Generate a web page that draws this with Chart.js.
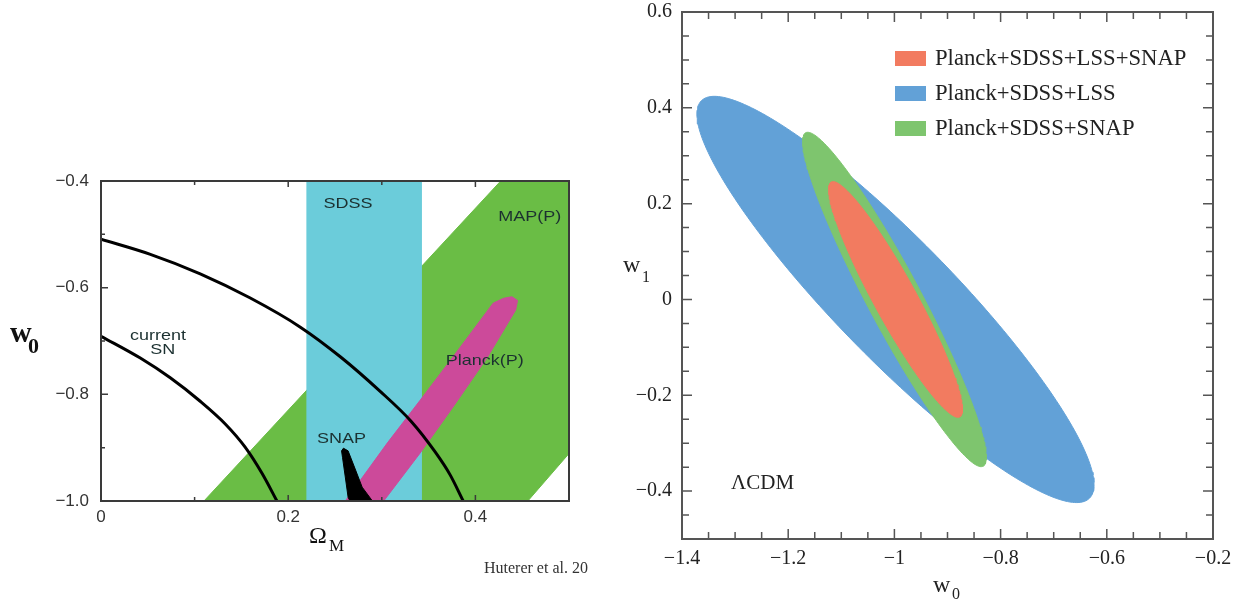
<!DOCTYPE html>
<html>
<head>
<meta charset="utf-8">
<script src="https://cdn.jsdelivr.net/npm/chart.js@4.4.1/dist/chart.umd.min.js"></script>
<style>
  html, body { margin: 0; padding: 0; background: #fff; }
  #wrap { position: relative; width: 1237px; height: 601px; overflow: hidden; }
  #leftPanel { position: absolute; left: 0; top: 0; }
  #rightPanel { position: absolute; left: 600px; top: 0; }
</style>
</head>
<body>
<div id="wrap">
  <canvas id="leftPanel" width="600" height="601"></canvas>
  <canvas id="rightPanel" width="637" height="601"></canvas>
</div>
<script>
// ---------- left panel data (Omega_M vs w0) ----------
const leftXTicks = [0, 0.2, 0.4];
const leftXTickLabels = ['0', '0.2', '0.4'];
const leftXMinor = [0.1, 0.3];
const leftYTicks = [-0.4, -0.6, -0.8, -1.0];
const leftYTickLabels = ['\u22120.4', '\u22120.6', '\u22120.8', '\u22121.0'];
const leftYMinor = [-0.5, -0.7, -0.9];

// MAP(P) band outline
const mapBandX = [0.110, 0.427, 0.500, 0.500, 0.456, 0.110];
const mapBandY = [-1.0, -0.4, -0.4, -0.911, -1.0, -1.0];
// SDSS band
const sdssX = [0.220, 0.220, 0.342, 0.342, 0.220];
const sdssY = [-1.0, -0.4, -0.4, -1.0, -1.0];
// Planck(P) contour
const planckX = [0.261, 0.306, 0.341, 0.376, 0.419, 0.430, 0.439, 0.445, 0.443, 0.413, 0.376, 0.341, 0.302, 0.261];
const planckY = [-1.0, -0.891, -0.811, -0.730, -0.629, -0.620, -0.617, -0.624, -0.642, -0.730, -0.824, -0.910, -1.0, -1.0];
// SNAP contour
const snapX = [0.266, 0.264, 0.261, 0.258, 0.257, 0.259, 0.264, 0.272, 0.279, 0.290, 0.266];
const snapY = [-1.0, -0.993, -0.955, -0.918, -0.906, -0.901, -0.906, -0.942, -0.974, -1.0, -1.0];
// current SN contours
const outerArcX = [0, 0.052, 0.106, 0.159, 0.213, 0.256, 0.298, 0.331, 0.357, 0.373, 0.387];
const outerArcY = [-0.509, -0.537, -0.574, -0.619, -0.674, -0.730, -0.794, -0.850, -0.908, -0.951, -1.0];
const innerArcX = [0, 0.042, 0.074, 0.106, 0.133, 0.154, 0.172, 0.188];
const innerArcY = [-0.691, -0.732, -0.769, -0.813, -0.856, -0.899, -0.948, -1.0];

// ---------- right panel data (w0 vs w1) ----------
const rightXTicks = [-1.4, -1.2, -1.0, -0.8, -0.6, -0.4];
const rightXTickLabels = ['\u22121.4', '\u22121.2', '\u22121', '\u22120.8', '\u22120.6', '\u22120.2'];
const rightYTicks = [0.6, 0.4, 0.2, 0, -0.2, -0.4];
const rightYTickLabels = ['0.6', '0.4', '0.2', '0', '\u22120.2', '\u22120.4'];

const seriesNames = ['Planck+SDSS+LSS+SNAP', 'Planck+SDSS+LSS', 'Planck+SDSS+SNAP'];
// ellipse: centre, half extent in x and y, half chord at centre / half extent (tilt)
const ellCenterX = [-0.998, -0.998, -1.000];
const ellCenterY = [0.000, 0.000, 0.000];
const ellHalfX = [0.126, 0.374, 0.173];
const ellHalfY = [0.246, 0.424, 0.349];
const ellChord = [0.36, 0.41, 0.33];
const seriesColors = ['#f27b60', '#62a1d7', '#7ec56e'];

const SANS = '"Liberation Sans", Arial, sans-serif';
const SERIF = '"Liberation Serif", "Times New Roman", serif';

function zipPoints(xs, ys) {
  return xs.map((x, i) => ({ x: x, y: ys[i] }));
}

function ellipseOutline(i) {
  const pts = [];
  const d = Math.PI - Math.asin(ellChord[i]);
  for (let k = 0; k <= 240; k++) {
    const t = 2 * Math.PI * k / 240;
    pts.push({ x: ellCenterX[i] + ellHalfX[i] * Math.cos(t), y: ellCenterY[i] + ellHalfY[i] * Math.cos(t + d) });
  }
  return pts;
}

function shape(points, color, order) {
  return { data: points, backgroundColor: color, borderColor: color, borderWidth: 1,
           fill: 'shape', pointRadius: 0, tension: 0, order: order };
}

function arc(xs, ys) {
  return { data: zipPoints(xs, ys), borderColor: '#000', borderWidth: 3, fill: false,
           pointRadius: 0, cubicInterpolationMode: 'monotone', order: 0 };
}

// ---------- left panel ----------
const leftDecor = {
  id: 'leftDecor',
  afterDraw(chart) {
    const { ctx, chartArea: a, scales: { x, y } } = chart;
    ctx.save();
    ctx.strokeStyle = '#3a3a3a';
    ctx.lineWidth = 2;
    ctx.strokeRect(a.left, a.top, a.right - a.left, a.bottom - a.top);

    ctx.lineWidth = 1.5;
    ctx.beginPath();
    leftXTicks.concat(leftXMinor).forEach(v => {
      const px = x.getPixelForValue(v);
      const len = leftXTicks.includes(v) ? 6 : 4;
      ctx.moveTo(px, a.bottom); ctx.lineTo(px, a.bottom - len);
      ctx.moveTo(px, a.top); ctx.lineTo(px, a.top + len);
    });
    leftYTicks.concat(leftYMinor).forEach(v => {
      const py = y.getPixelForValue(v);
      const len = leftYTicks.includes(v) ? 7 : 4;
      ctx.moveTo(a.left, py); ctx.lineTo(a.left + len, py);
    });
    ctx.stroke();

    // labels inside the plot (source image is stretched sideways)
    const labels = [
      ['SDSS', 0.264, -0.442], ['MAP(P)', 0.458, -0.468], ['Planck(P)', 0.410, -0.738],
      ['SNAP', 0.257, -0.884], ['current', 0.061, -0.691], ['SN', 0.066, -0.717]
    ];
    ctx.fillStyle = '#1b3030';
    ctx.font = '15px ' + SANS;
    ctx.textAlign = 'center';
    ctx.textBaseline = 'middle';
    labels.forEach(([t, vx, vy]) => {
      ctx.save();
      ctx.translate(x.getPixelForValue(vx), y.getPixelForValue(vy));
      ctx.scale(1.2, 1);
      ctx.fillText(t, 0, 0);
      ctx.restore();
    });

    // axis titles
    ctx.fillStyle = '#111';
    ctx.textAlign = 'left';
    ctx.textBaseline = 'alphabetic';
    ctx.font = 'bold 30px ' + SERIF;
    ctx.fillText('w', 10, 342);
    ctx.font = 'bold 22px ' + SERIF;
    ctx.fillText('0', 28, 353);
    ctx.font = '24px ' + SERIF;
    ctx.fillText('\u03A9', 309, 543);
    ctx.font = '17px ' + SERIF;
    ctx.fillText('M', 329, 551);
    ctx.fillStyle = '#333';
    ctx.font = '16px ' + SERIF;
    ctx.fillText('Huterer et al. 20', 484, 573);
    ctx.restore();
  }
};

new Chart(document.getElementById('leftPanel'), {
  type: 'line',
  data: {
    datasets: [
      arc(outerArcX, outerArcY),
      arc(innerArcX, innerArcY),
      shape(zipPoints(snapX, snapY), '#000000', 1),
      shape(zipPoints(planckX, planckY), '#cc4a9a', 2),
      shape(zipPoints(sdssX, sdssY), '#6bccda', 3),
      shape(zipPoints(mapBandX, mapBandY), '#6abd45', 4)
    ]
  },
  options: {
    responsive: false,
    animation: false,
    devicePixelRatio: 1,
    layout: { padding: { top: 181, right: 31, left: 0, bottom: 0 } },
    plugins: { legend: { display: false }, tooltip: { enabled: false } },
    scales: {
      x: {
        type: 'linear', min: 0, max: 0.5,
        afterBuildTicks: s => { s.ticks = leftXTicks.map(v => ({ value: v })); },
        afterFit: s => { s.height = 100; s.paddingLeft = 0; s.paddingRight = 0; },
        ticks: { callback: (v, i) => leftXTickLabels[i], color: '#333', padding: 6,
                 font: { family: SANS, size: 17 }, maxRotation: 0 },
        grid: { display: false, drawTicks: false },
        border: { display: false }
      },
      y: {
        type: 'linear', min: -1.0, max: -0.4,
        afterBuildTicks: s => { s.ticks = leftYTicks.map(v => ({ value: v })); },
        afterFit: s => { s.width = 101; s.paddingTop = 0; s.paddingBottom = 0; },
        ticks: { callback: (v, i) => leftYTickLabels[i], color: '#333', padding: 12,
                 font: { family: SANS, size: 17 } },
        grid: { display: false, drawTicks: false },
        border: { display: false }
      }
    }
  },
  plugins: [leftDecor]
});

// ---------- right panel ----------
const rightDecor = {
  id: 'rightDecor',
  afterDraw(chart) {
    const { ctx, chartArea: a, scales: { x, y } } = chart;
    ctx.save();
    ctx.strokeStyle = '#555';
    ctx.lineWidth = 2;
    ctx.strokeRect(a.left, a.top, a.right - a.left, a.bottom - a.top);

    ctx.lineWidth = 1.5;
    ctx.beginPath();
    for (let k = 0; k <= 20; k++) {
      const v = -1.4 + k * 0.05;
      const px = x.getPixelForValue(v);
      const len = k % 4 === 0 ? 10 : 7;
      ctx.moveTo(px, a.bottom); ctx.lineTo(px, a.bottom - len);
      ctx.moveTo(px, a.top); ctx.lineTo(px, a.top + len);
    }
    for (let k = 0; k <= 22; k++) {
      const v = -0.5 + k * 0.05;
      const py = y.getPixelForValue(v);
      const len = (k + 2) % 4 === 0 ? 10 : 7;
      ctx.moveTo(a.left, py); ctx.lineTo(a.left + len, py);
      ctx.moveTo(a.right, py); ctx.lineTo(a.right - len, py);
    }
    ctx.stroke();

    // legend
    ctx.textAlign = 'left';
    ctx.textBaseline = 'middle';
    ctx.font = '22.7px ' + SERIF;
    seriesNames.forEach((name, i) => {
      const top = 51 + i * 35;
      ctx.fillStyle = seriesColors[i];
      ctx.fillRect(295, top, 31, 15);
      ctx.fillStyle = '#222';
      ctx.fillText(name, 335, top + 8);
    });

    ctx.textBaseline = 'alphabetic';
    ctx.fillStyle = '#222';
    ctx.font = '21px ' + SERIF;
    ctx.fillText('\u039BCDM', 131, 489);

    ctx.font = '24px ' + SERIF;
    ctx.fillText('w', 333, 592);
    ctx.fillText('w', 23, 272);
    ctx.font = '16px ' + SERIF;
    ctx.fillText('0', 352, 599);
    ctx.fillText('1', 42, 282);
    ctx.restore();
  }
};

new Chart(document.getElementById('rightPanel'), {
  type: 'line',
  data: {
    datasets: [
      shape(ellipseOutline(0), seriesColors[0], 0),
      shape(ellipseOutline(2), seriesColors[2], 1),
      shape(ellipseOutline(1), seriesColors[1], 2)
    ]
  },
  options: {
    responsive: false,
    animation: false,
    devicePixelRatio: 1,
    layout: { padding: { top: 12, right: 24, left: 0, bottom: 0 } },
    plugins: { legend: { display: false }, tooltip: { enabled: false } },
    scales: {
      x: {
        type: 'linear', min: -1.4, max: -0.4,
        afterBuildTicks: s => { s.ticks = rightXTicks.map(v => ({ value: v })); },
        afterFit: s => { s.height = 62; s.paddingLeft = 0; s.paddingRight = 0; },
        ticks: { callback: (v, i) => rightXTickLabels[i], color: '#222', padding: 8,
                 font: { family: SERIF, size: 20 }, maxRotation: 0 },
        grid: { display: false, drawTicks: false },
        border: { display: false }
      },
      y: {
        type: 'linear', min: -0.5, max: 0.6,
        afterBuildTicks: s => { s.ticks = rightYTicks.map(v => ({ value: v })); },
        afterFit: s => { s.width = 82; s.paddingTop = 0; s.paddingBottom = 0; },
        ticks: { callback: (v, i) => rightYTickLabels[i], color: '#222', padding: 10,
                 font: { family: SERIF, size: 20 } },
        grid: { display: false, drawTicks: false },
        border: { display: false }
      }
    }
  },
  plugins: [rightDecor]
});
</script>
</body>
</html>
